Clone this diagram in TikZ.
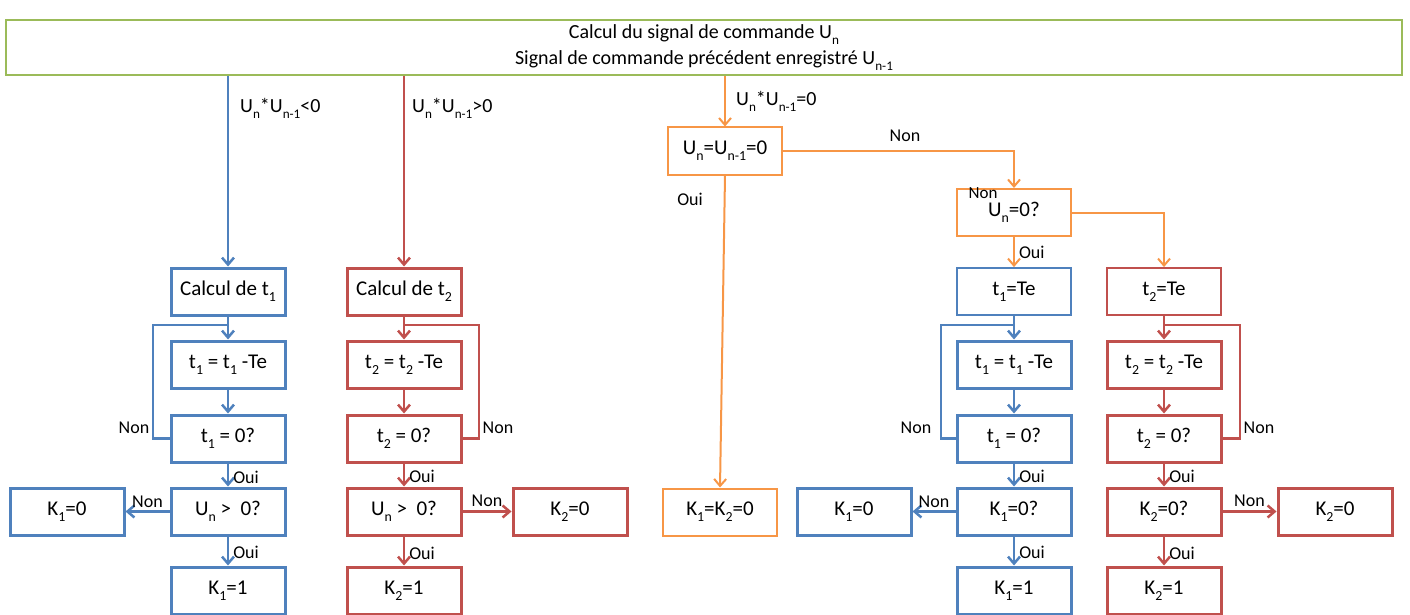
\documentclass[tikz,border=0pt]{standalone}
\usepackage{fontspec}
\setmainfont{Carlito}
\usetikzlibrary{arrows.meta}
\definecolor{cB}{HTML}{4F81BD}
\definecolor{cR}{HTML}{C0504D}
\definecolor{cO}{HTML}{F79646}
\definecolor{cG}{HTML}{9BBB59}
\newcommand{\sbs}[1]{\raisebox{-0.3em}{\scalebox{0.66}{#1}}}
\begin{document}
\begin{tikzpicture}[x=1pt,y=-1pt,
  box/.style={draw, rectangle, minimum width=114pt, minimum height=47pt, inner sep=0pt, fill=white, font=\fontsize{21}{24}\selectfont},
  bbox/.style={box, draw=cB, line width=3pt},
  rbox/.style={box, draw=cR, line width=3pt},
  bthin/.style={box, draw=cB, line width=1.8pt},
  rthin/.style={box, draw=cR, line width=1.8pt},
  obox/.style={box, draw=cO, line width=2pt},
  lbl/.style={font=\fontsize{18}{20}\selectfont, inner sep=0pt},
  cond/.style={font=\fontsize{20}{22}\selectfont, inner sep=0pt, anchor=west},
  tip/.style={-{Straight Barb[length=7pt,width=12pt]}},
  barr/.style={tip, draw=cB, line width=2.5pt},
  rarr/.style={tip, draw=cR, line width=2.5pt},
  oarr/.style={tip, draw=cO, line width=2pt},
  bline/.style={draw=cB, line width=2.5pt},
  rline/.style={draw=cR, line width=2.5pt},
  oline/.style={draw=cO, line width=2pt}
]
\useasboundingbox (0,0) rectangle (1410,615);

% top box
\node[draw=cG, line width=2pt, minimum width=1396pt, minimum height=55pt, inner sep=0pt,
      align=center, font=\fontsize{20}{26}\selectfont] (top) at (704,47.5)
  {Calcul du signal de commande U\sbs{n}\\Signal de commande précédent enregistré U\sbs{n-1}};

% ---------- left blue branch ----------
\node[bbox] (ca) at (228,291.5) {Calcul de t\sbs{1}};
\node[bbox] (ma) at (228,364.5) {t\sbs{1} = t\sbs{1} -Te};
\node[bbox] (za) at (228,438.5) {t\sbs{1} = 0?};
\node[bbox] (ua) at (228,511.5) {U\sbs{n} >~ 0?};
\node[bbox] (ka1) at (228,590.5) {K\sbs{1}=1};
\node[bbox] (ka0) at (67,511.5) {K\sbs{1}=0};
\draw[barr] (ca.north |- top.south) -- (ca.north);
\node[cond] (la) at (240,108) {U\sbs{n}*U\sbs{n-1}<0};
\draw[barr] (ca) -- (ma);
\draw[barr] (ma) -- (za);
\coordinate (lpa) at (153,325);
\draw[bline] (za.west) -| (lpa) -- (lpa -| ca.south);
\node[lbl] (nla) at (134,428) {Non};
\draw[barr] (za) -- node[lbl, right=4pt, yshift=-2pt] (oa1) {Oui} (ua);
\draw[barr] (ua) -- node[lbl, right=4pt, yshift=-1pt] (oa2) {Oui} (ka1);
\draw[barr] (ua) -- node[lbl, above=3pt] (na0) {Non} (ka0);

% ---------- left red branch ----------
\node[rbox] (cb) at (404,291.5) {Calcul de t\sbs{2}};
\node[rbox] (mb) at (404,364.5) {t\sbs{2} = t\sbs{2} -Te};
\node[rbox] (zb) at (404,438.5) {t\sbs{2} = 0?};
\node[rbox] (ub) at (404,511.5) {U\sbs{n} >~ 0?};
\node[rbox] (kb1) at (404,590.5) {K\sbs{2}=1};
\node[rbox] (kb0) at (570,511.5) {K\sbs{2}=0};
\draw[rarr] (cb.north |- top.south) -- (cb.north);
\node[cond] (lb) at (412,108) {U\sbs{n}*U\sbs{n-1}>0};
\draw[rarr] (cb) -- (mb);
\draw[rarr] (mb) -- (zb);
\coordinate (lpb) at (479,325);
\draw[rline] (zb.east) -| (lpb) -- (lpb -| cb.south);
\node[lbl] (nlb) at (498,428) {Non};
\draw[rarr] (zb) -- node[lbl, right=4pt, yshift=-1pt] (ob1) {Oui} (ub);
\draw[rarr] (ub) -- node[lbl, right=4pt, yshift=-2pt] (ob2) {Oui} (kb1);
\draw[rarr] (ub) -- node[lbl, above=4pt] (nb0) {Non} (kb0);

% ---------- orange middle ----------
\node[obox] (ueq) at (725,151) {U\sbs{n}=U\sbs{n-1}=0};
\node[obox] (kk) at (720,512) {K\sbs{1}=K\sbs{2}=0};
\node[obox] (uz) at (1014,212.5) {\raisebox{-7pt}{U\sbs{n}=0?}};
\draw[oarr] (ueq.north |- top.south) -- (ueq.north);
\node[cond] (lo) at (736,101) {U\sbs{n}*U\sbs{n-1}=0};
\draw[oarr] (ueq.south) -- (kk.north);
\node[lbl] (oo) at (690,199) {Oui};
\draw[oarr] (ueq.east) -| (uz.north);
\node[lbl] (no) at (905,136) {Non};
\node[lbl, font=\fontsize{17}{19}\selectfont] (nuz) at (983,193) {Non};

% ---------- right blue branch ----------
\node[bthin] (tc) at (1014,291.5) {t\sbs{1}=Te};
\node[bbox] (mc) at (1014,364.5) {t\sbs{1} = t\sbs{1} -Te};
\node[bbox] (zc) at (1014,438.5) {t\sbs{1} = 0?};
\node[bbox] (uc) at (1014,511.5) {K\sbs{1}=0?};
\node[bbox] (kc1) at (1014,590.5) {K\sbs{1}=1};
\node[bbox] (kc0) at (854,511.5) {K\sbs{1}=0};
\draw[oarr] (uz.south) -- node[lbl, right=4pt] (ouz) {Oui} (tc.north);
\draw[barr] (tc) -- (mc);
\draw[barr] (mc) -- (zc);
\coordinate (lpc) at (941,325);
\draw[bline] (zc.west) -| (lpc) -- (lpc -| tc.south);
\node[lbl] (nlc) at (916,428) {Non};
\draw[barr] (zc) -- node[lbl, right=4pt, yshift=-1pt] (oc1) {Oui} (uc);
\draw[barr] (uc) -- node[lbl, right=4pt, yshift=-1pt] (oc2) {Oui} (kc1);
\draw[barr] (uc) -- node[lbl, above=3pt] (nc0) {Non} (kc0);

% ---------- right red branch ----------
\node[rthin] (td) at (1164,291.5) {t\sbs{2}=Te};
\node[rbox] (md) at (1164,364.5) {t\sbs{2} = t\sbs{2} -Te};
\node[rbox] (zd) at (1164,438.5) {t\sbs{2} = 0?};
\node[rbox] (ud) at (1164,511.5) {K\sbs{2}=0?};
\node[rbox] (kd1) at (1164,590.5) {K\sbs{2}=1};
\node[rbox] (kd0) at (1335,511.5) {K\sbs{2}=0};
\draw[oarr] (uz.east) -| (td.north);
\draw[rarr] (td) -- (md);
\draw[rarr] (md) -- (zd);
\coordinate (lpd) at (1240,325);
\draw[rline] (zd.east) -| (lpd) -- (lpd -| td.south);
\node[lbl] (nld) at (1259,428) {Non};
\draw[rarr] (zd) -- node[lbl, right=4pt, yshift=-1pt] (od1) {Oui} (ud);
\draw[rarr] (ud) -- node[lbl, right=4pt, yshift=-2pt] (od2) {Oui} (kd1);
\draw[rarr] (ud) -- node[lbl, above=4pt] (nd0) {Non} (kd0);
\end{tikzpicture}
\end{document}
